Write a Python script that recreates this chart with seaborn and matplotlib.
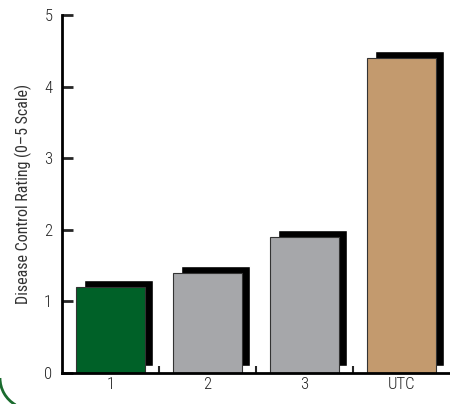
import numpy as np
import pandas as pd
import seaborn as sns
import matplotlib.pyplot as plt
from matplotlib.patches import Arc

# Chart data
categories = ['1', '2', '3', 'UTC']
ratings = [1.2, 1.4, 1.9, 4.4]
bar_colors = ['#006128', '#a6a7aa', '#a6a7aa', '#c39a6e']
y_ticks = [0, 1, 2, 3, 4, 5]

sns.set_style('white')
plt.rcParams['font.family'] = ['Roboto Condensed', 'Liberation Sans Narrow', 'DejaVu Sans']
plt.rcParams['font.weight'] = 'light'

df = pd.DataFrame({'Treatment': categories, 'Rating': ratings})

fig = plt.figure(figsize=(4.5, 4.04), dpi=100)
ax = fig.add_axes([62 / 450, 31 / 404, 388 / 450, 358 / 404])

# drop shadows behind the bars (shifted right and up)
pos = np.arange(len(categories))
ax.bar(pos + 0.083, ratings, width=0.72, bottom=0.1, color='black', zorder=1)

sns.barplot(data=df, x='Treatment', y='Rating', hue='Treatment', palette=bar_colors,
            saturation=1, width=0.72, edgecolor='#333333', linewidth=0.8,
            legend=False, ax=ax, zorder=2)

ax.set_xlim(-0.5, 3.5)
ax.set_ylim(0, 5)
ax.set_yticks(y_ticks)
ax.set_xlabel('')
ax.set_ylabel('Disease Control Rating (0\u20135 Scale)', fontsize=11.5, color='#333333', labelpad=9)

for side in ['top', 'right']:
    ax.spines[side].set_visible(False)
for side in ['left', 'bottom']:
    ax.spines[side].set_linewidth(2)
    ax.spines[side].set_color('black')

ax.tick_params(axis='y', left=True, direction='in', length=8, width=2,
               labelsize=12, labelcolor='#222222', pad=7)
ax.tick_params(axis='x', which='major', bottom=True, length=0, labelsize=12,
               labelcolor='#222222', pad=3)
ax.set_xticks([0.5, 1.5, 2.5], minor=True)
ax.tick_params(axis='x', which='minor', bottom=True, direction='in', length=5, width=1.5)

# green rounded corner of the page frame
fig.patches.append(Arc((31, 26), 62, 62, theta1=180, theta2=240, transform=None,
                       color='#1a6b2e', linewidth=2))

fig.savefig('out.png', dpi=100)
